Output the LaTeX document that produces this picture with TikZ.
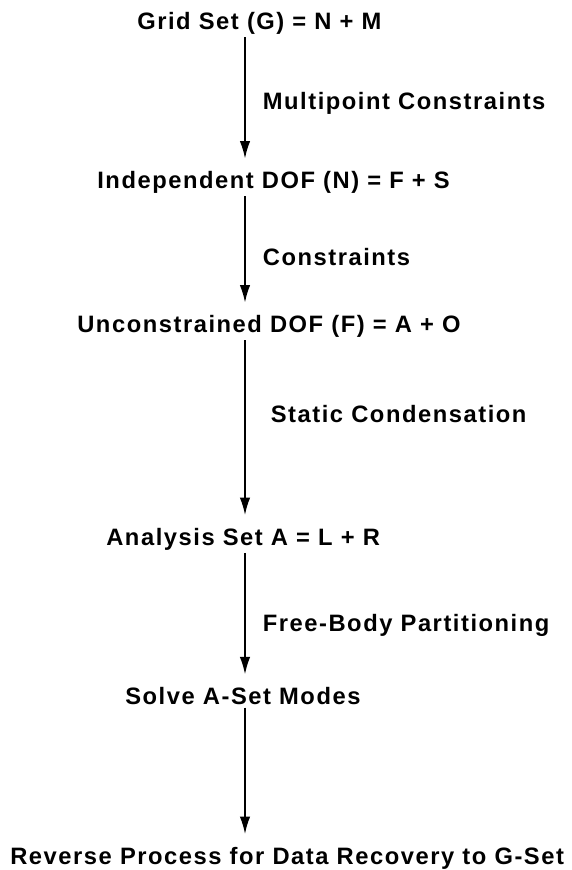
\documentclass[tikz,border=0pt]{standalone}
\usepackage{fontspec}
\setmainfont{Liberation Sans}[LetterSpace=6.5]
\usetikzlibrary{arrows.meta}
\tikzset{
  setbox/.style={font=\fontsize{13.5}{16}\selectfont\bfseries, anchor=west, inner sep=0pt},
  steplabel/.style={font=\fontsize{13.5}{16}\selectfont\bfseries, anchor=west, inner sep=0pt},
  flow/.style={-{Latex[length=10pt,width=6pt]}, line width=1pt, shorten >=0.25cm, shorten <=0.05cm}
}
\begin{document}
\begin{tikzpicture}
      \useasboundingbox (0,0) rectangle (11.44,17.4);
      \coordinate (axis) at (4.9,0);
      \node[setbox] (G) at (2.74,16.93) {Grid Set (G) = N + M};
      \node[setbox] (N) at (1.94,13.75) {Independent DOF (N) = F + S};
      \node[setbox] (F) at (1.54,10.87) {Unconstrained DOF (F) = A + O};
      \node[setbox] (A) at (2.12,6.62) {Analysis Set A = L + R};
      \node[setbox] (M) at (2.5,3.48) {Solve A-Set Modes};
      \node[setbox] (R) at (0.2,0.24) {Reverse Process for Data Recovery to G-Set};
      \draw[flow] (G.south -| axis) -- (N.north -| axis) node[steplabel, pos=0.5, xshift=0.34cm] {Multipoint Constraints};
      \draw[flow] (N.south -| axis) -- (F.north -| axis) node[steplabel, pos=0.52, xshift=0.34cm] {Constraints};
      \draw[flow] (F.south -| axis) -- (A.north -| axis) node[steplabel, pos=0.4, xshift=0.5cm] {Static Condensation};
      \draw[flow] (A.south -| axis) -- (M.north -| axis) node[steplabel, pos=0.55, xshift=0.34cm] {Free-Body Partitioning};
      \draw[flow] (M.south -| axis) -- (R.north -| axis);
\end{tikzpicture}
\end{document}
